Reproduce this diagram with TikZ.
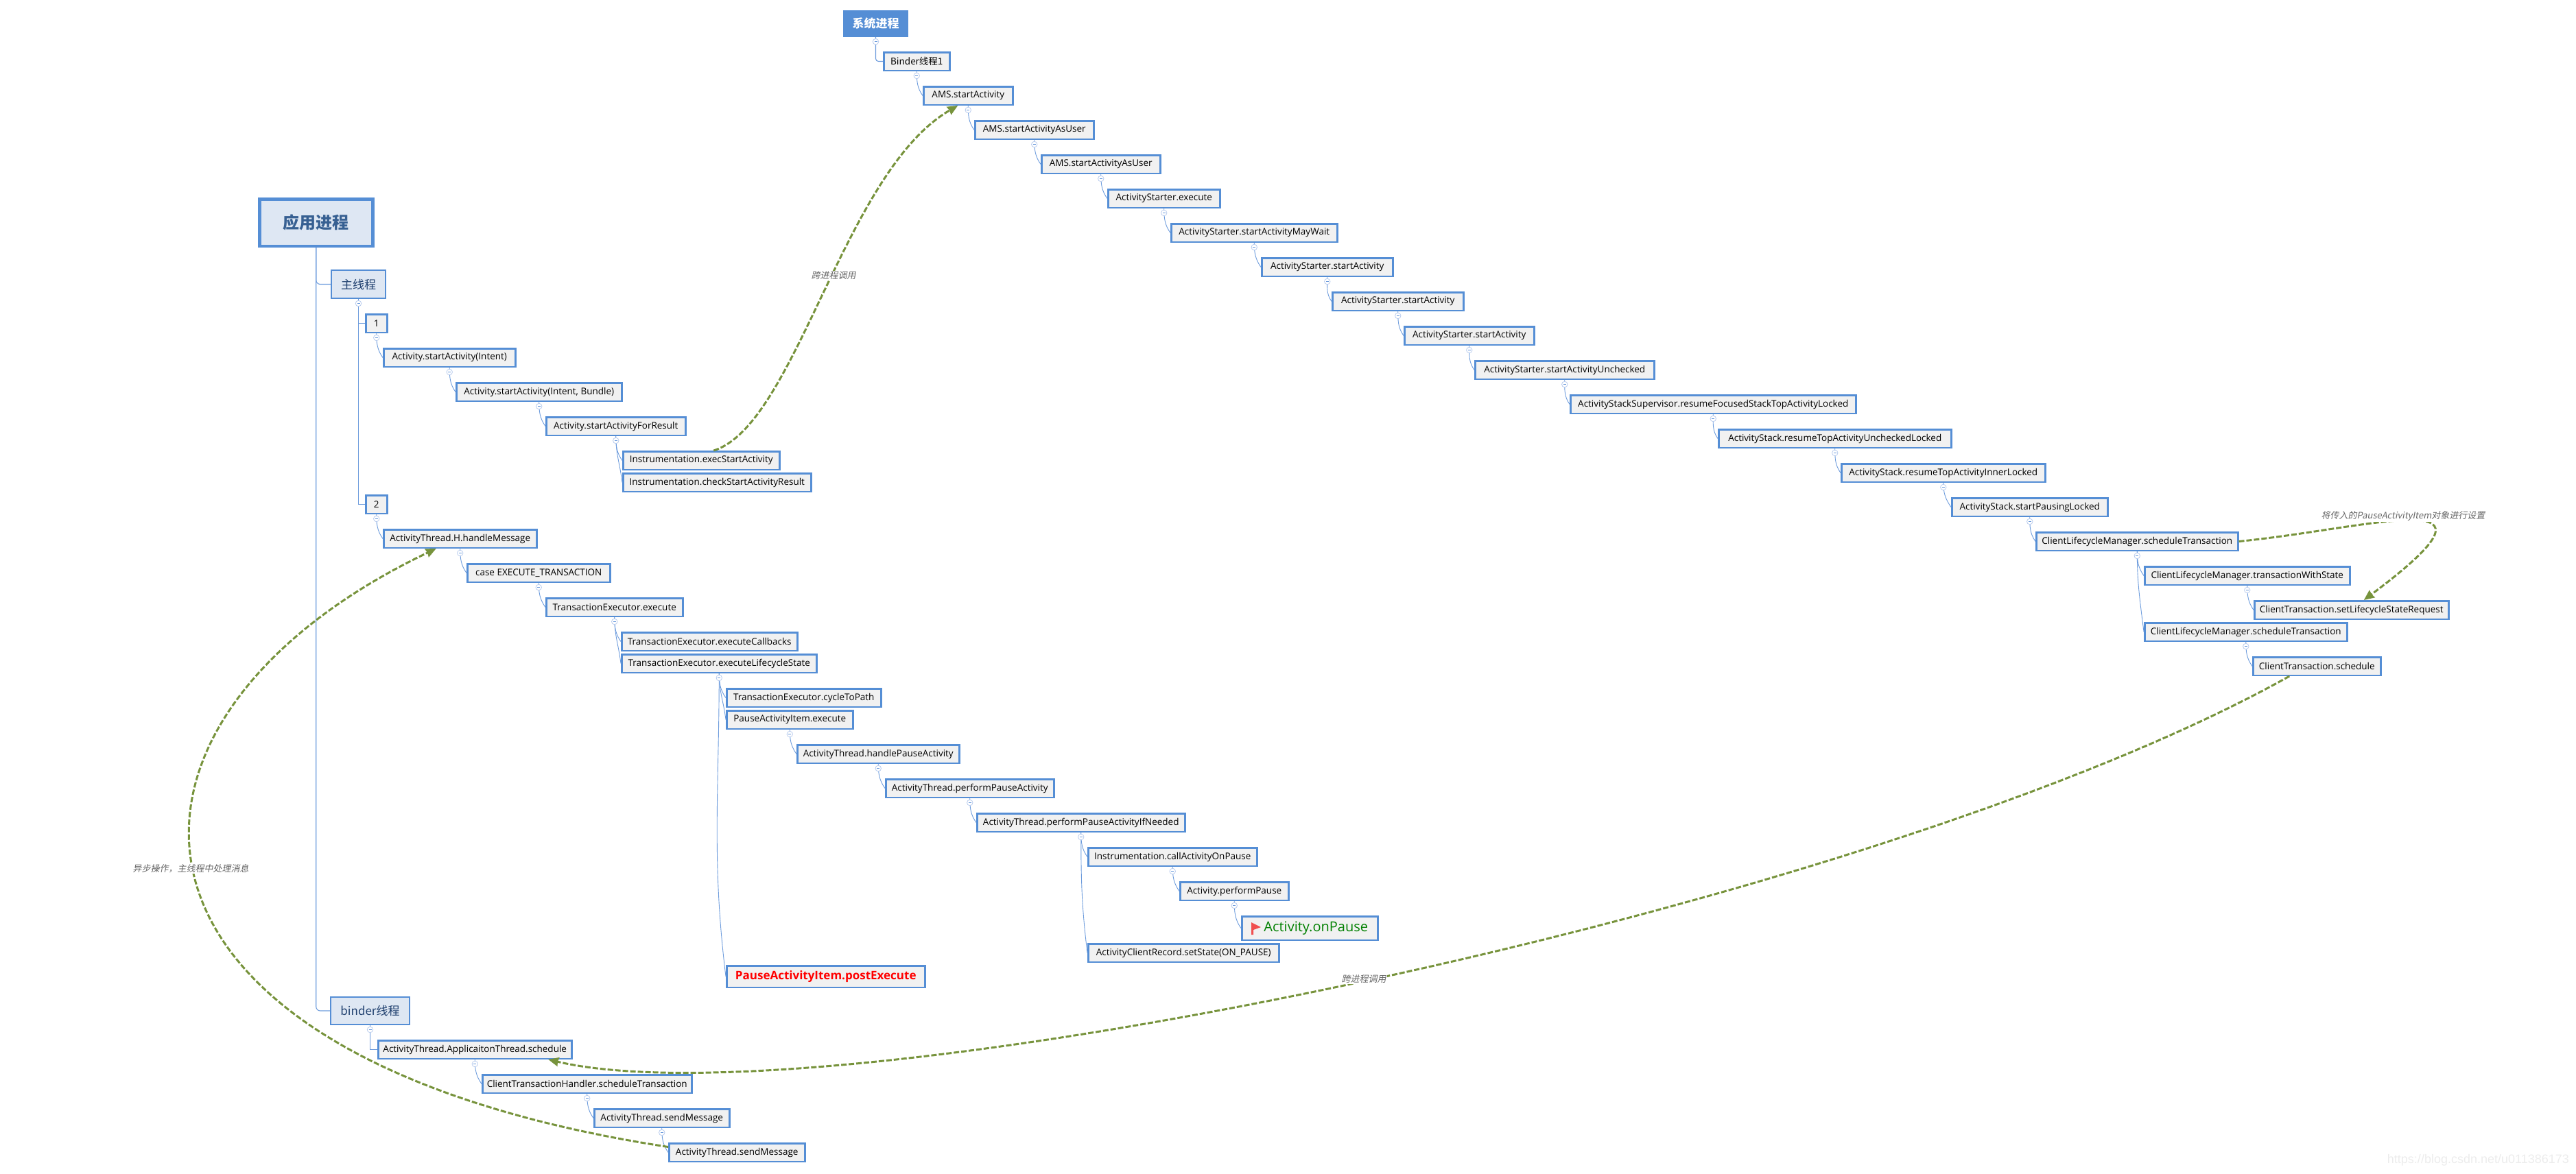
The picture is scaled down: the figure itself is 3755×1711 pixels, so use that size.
\documentclass[tikz,border=0pt]{standalone}
\usepackage{fontspec}
\setmainfont{Open Sans}
\newfontfamily\cjk{Noto Sans CJK SC}
\newfontfamily\cjknote[FakeSlant=0.2]{Noto Sans CJK SC}
\newfontfamily\markfont{Liberation Sans}
\usetikzlibrary{arrows.meta}

\definecolor{boxblue}{HTML}{558ED5}
\definecolor{linkblue}{HTML}{6C9BDC}
\definecolor{foldblue}{HTML}{B9CCEE}
\definecolor{lightblue}{HTML}{DEE7F3}
\definecolor{callgray}{HTML}{F1F1F1}
\definecolor{jumpgreen}{HTML}{77933C}
\definecolor{navytext}{HTML}{1F3F6E}
\definecolor{roottext}{HTML}{376092}
\definecolor{flagred}{HTML}{F05050}

\tikzset{
  callbox/.style={draw=boxblue, fill=callgray, line width=2.5pt, anchor=west, minimum height=26.5pt,
    inner xsep=0pt, inner ysep=0pt, text=black, font=\fontsize{13.5}{15}\selectfont},
  threadbox/.style={draw=boxblue, fill=lightblue, line width=2pt, inner sep=0pt, text=navytext,
    font=\cjk\fontsize{17}{20}\selectfont},
  foldmark/.style={circle, draw=foldblue, fill=white, line width=0.8pt, minimum size=8.5pt, inner sep=0pt,
    path picture={\draw[linkblue, line width=0.9pt] ([xshift=-2pt]path picture bounding box.center) -- ([xshift=2pt]path picture bounding box.center);}},
  branch/.style={linkblue, line width=1.1pt},
  curvebranch/.style={linkblue, line width=0.9pt},
  jump/.style={jumpgreen, line width=3pt, dash pattern=on 8pt off 3pt},
  jumphead/.style={-{Stealth[length=15pt,width=13pt,inset=1pt]}},
  notelabel/.style={fill=white, inner sep=1pt, text=black!60, font=\cjknote\fontsize{13}{15}\selectfont}
}

\begin{document}
\begin{tikzpicture}[x=1pt, y=-1pt]
  \useasboundingbox (0,0) rectangle (3755,1711);

  % app side
  \node[draw=boxblue, fill=lightblue, line width=4.5pt, minimum width=165pt, minimum height=68.5pt, text=roottext,
    font=\cjk\bfseries\fontsize{24}{28}\selectfont] (approot) at (460.75,324.5) {应用进程};
  \node[threadbox, minimum width=79pt, minimum height=41pt] (mainthread) at (522.5,414.5) {主线程};
  \node[callbox, minimum width=31pt] (stepone) at (532,471.5) {1};
  \node[callbox, minimum width=192pt] (startintent) at (558,521.5) {Activity.startActivity(Intent)};
  \node[callbox, minimum width=241pt] (startbundle) at (664,571.5) {Activity.startActivity(Intent, Bundle)};
  \node[callbox, minimum width=203pt] (startresult) at (795,621.5) {Activity.startActivityForResult};
  \node[callbox, minimum width=228pt] (execstart) at (907,671.5) {Instrumentation.execStartActivity};
  \node[callbox, minimum width=274pt] (checkstart) at (907,703.5) {Instrumentation.checkStartActivityResult};

  \node[callbox, minimum width=31pt] (steptwo) at (532,735.5) {2};
  \node[callbox, minimum width=223pt] (handlemsg) at (558,785.5) {ActivityThread.H.handleMessage};
  \node[callbox, minimum width=208pt] (casetx) at (680,835.5) {case EXECUTE\_TRANSACTION};
  \node[callbox, minimum width=199pt] (txexec) at (795,885.5) {TransactionExecutor.execute};
  \node[callbox, minimum width=256pt] (txcallbacks) at (905,935.5) {TransactionExecutor.executeCallbacks};
  \node[callbox, minimum width=284pt] (txlife) at (905,967.5) {TransactionExecutor.executeLifecycleState};
  \node[callbox, minimum width=225pt] (cyclepath) at (1058,1017.5) {TransactionExecutor.cycleToPath};
  \node[callbox, minimum width=184pt] (pauseexec) at (1058,1049.5) {PauseActivityItem.execute};
  \node[callbox, minimum width=236pt] (handlepause) at (1161,1099.5) {ActivityThread.handlePauseActivity};
  \node[callbox, minimum width=245pt] (performpause) at (1290,1149.5) {ActivityThread.performPauseActivity};
  \node[callbox, minimum width=303pt] (pauseneeded) at (1423,1199.5) {ActivityThread.performPauseActivityIfNeeded};
  \node[callbox, minimum width=246pt] (callpause) at (1585,1249.5) {Instrumentation.callActivityOnPause};
  \node[callbox, minimum width=158pt] (actpause) at (1719,1299.5) {Activity.performPause};
  \node[callbox, minimum width=198pt, minimum height=34.5pt, text={rgb,255:red,0;green,128;blue,0},
    font=\fontsize{20}{24}\selectfont] (onpause) at (1809,1353.5) {\hspace*{18pt}Activity.onPause};
  \node[callbox, minimum width=278pt] (setstate) at (1585,1389.5) {ActivityClientRecord.setState(ON\_PAUSE)};
  \node[callbox, minimum width=289pt, minimum height=31.5pt, text=red,
    font=\bfseries\fontsize{17}{20}\selectfont] (postexec) at (1058,1424) {PauseActivityItem.postExecute};

  \node[threadbox, minimum width=115pt, minimum height=40pt] (binderthread) at (539.5,1474) {binder线程};
  \node[callbox, minimum width=282pt] (appschedule) at (550,1530.5) {ActivityThread.ApplicaitonThread.schedule};
  \node[callbox, minimum width=305pt] (handlersched) at (702,1580.5) {ClientTransactionHandler.scheduleTransaction};
  \node[callbox, minimum width=197pt] (sendmsg) at (865,1630.5) {ActivityThread.sendMessage};
  \node[callbox, minimum width=198pt] (sendmsgb) at (974,1680.5) {ActivityThread.sendMessage};

  % system side
  \node[fill=boxblue, minimum width=95pt, minimum height=39pt, inner sep=0pt, text=white,
    font=\cjk\bfseries\fontsize{17}{20}\selectfont] (sysproc) at (1276.5,34.5) {系统进程};
  \node[callbox, minimum width=96pt, font=\cjk\fontsize{13.5}{15}\selectfont] (binderone) at (1287,89.5) {Binder线程1};
  \node[callbox, minimum width=130pt] (amsstart) at (1345,139.5) {AMS.startActivity};
  \node[callbox, minimum width=173pt] (amsuser) at (1420,189.5) {AMS.startActivityAsUser};
  \node[callbox, minimum width=173pt] (amsuserb) at (1517,239.5) {AMS.startActivityAsUser};
  \node[callbox, minimum width=163pt] (starterexec) at (1614,289.5) {ActivityStarter.execute};
  \node[callbox, minimum width=242pt] (startermay) at (1706,339.5) {ActivityStarter.startActivityMayWait};
  \node[callbox, minimum width=191pt] (starterc) at (1838,389.5) {ActivityStarter.startActivity};
  \node[callbox, minimum width=191pt] (starterd) at (1941,439.5) {ActivityStarter.startActivity};
  \node[callbox, minimum width=189pt] (startere) at (2046,489.5) {ActivityStarter.startActivity};
  \node[callbox, minimum width=261pt] (starterun) at (2149,539.5) {ActivityStarter.startActivityUnchecked};
  \node[callbox, minimum width=416pt] (supervisor) at (2288,589.5) {ActivityStackSupervisor.resumeFocusedStackTopActivityLocked};
  \node[callbox, minimum width=339pt] (stackun) at (2504,639.5) {ActivityStack.resumeTopActivityUncheckedLocked};
  \node[callbox, minimum width=297pt] (stackinner) at (2683,689.5) {ActivityStack.resumeTopActivityInnerLocked};
  \node[callbox, minimum width=227pt] (stackpause) at (2844,739.5) {ActivityStack.startPausingLocked};
  \node[callbox, minimum width=294pt] (lifesched) at (2967,789.5) {ClientLifecycleManager.scheduleTransaction};
  \node[callbox, minimum width=299pt] (lifestate) at (3125,839.5) {ClientLifecycleManager.transactionWithState};
  \node[callbox, minimum width=283pt] (setrequest) at (3285,889.5) {ClientTransaction.setLifecycleStateRequest};
  \node[callbox, minimum width=295pt] (lifeschedb) at (3125,921.5) {ClientLifecycleManager.scheduleTransaction};
  \node[callbox, minimum width=186pt] (txschedule) at (3283,971.5) {ClientTransaction.schedule};

  \fill[flagred] (1824,1345) -- (1838,1352) -- (1827,1356) -- (1827,1363) -- (1824,1363) -- cycle;

  % tree lines
  \draw[branch, rounded corners=6pt] (approot.south) |- (mainthread.west);
  \draw[branch, rounded corners=6pt] (approot.south) |- (binderthread.west);
  \draw[branch, rounded corners=4pt] (sysproc.south) |- (binderone.west);
  \draw[branch] (mainthread.south) |- (stepone.west);
  \draw[branch] (mainthread.south) |- (steptwo.west);
  \draw[branch] (binderthread.south) |- (appschedule.west);

  \foreach \from/\to in {stepone/startintent, startintent/startbundle, startbundle/startresult,
    startresult/execstart, steptwo/handlemsg, handlemsg/casetx, casetx/txexec,
    txexec/txcallbacks, txlife/cyclepath, pauseexec/handlepause, handlepause/performpause,
    performpause/pauseneeded, pauseneeded/callpause, callpause/actpause, actpause/onpause,
    appschedule/handlersched, handlersched/sendmsg, sendmsg/sendmsgb, binderone/amsstart,
    amsstart/amsuser, amsuser/amsuserb, amsuserb/starterexec, starterexec/startermay,
    startermay/starterc, starterc/starterd, starterd/startere, startere/starterun,
    starterun/supervisor, supervisor/stackun, stackun/stackinner, stackinner/stackpause,
    stackpause/lifesched, lifesched/lifestate, lifestate/setrequest, lifeschedb/txschedule} {
    \draw[curvebranch] (\from.south) to[out=-90, in=125] (\to.west);
  }

  % second and later children hang nearly straight
  \foreach \from/\to in {startresult/checkstart, txexec/txlife, txlife/pauseexec, txlife/postexec,
    pauseneeded/setstate, lifesched/lifeschedb} {
    \draw[curvebranch] (\from.south) to[out=-90, in=97] (\to.west);
  }

  \foreach \parent in {mainthread, stepone, startintent, startbundle, startresult, steptwo, handlemsg,
    casetx, txexec, txlife, pauseexec, handlepause, performpause, pauseneeded, callpause, actpause,
    binderthread, appschedule, handlersched, sendmsg, sysproc, binderone, amsstart, amsuser, amsuserb,
    starterexec, startermay, starterc, starterd, startere, starterun, supervisor, stackun, stackinner,
    stackpause, lifesched, lifestate, lifeschedb} {
    \node[foldmark] (fold-\parent) at ([yshift=-6.5pt]\parent.south) {};
  }

  % cross-process calls
  \draw[jump, jumphead] ([xshift=18pt]execstart.north) .. controls (1160,620) and (1230,250) .. ([xshift=-15pt]amsstart.south);
  \draw[jump, jumphead] (lifesched.east) .. controls (3460,770) and (3680,700) .. ([xshift=18pt]setrequest.north);
  \draw[jump, jumphead] ([xshift=-40pt]txschedule.south) .. controls (2723,1330) and (1200,1640) .. ([xshift=107pt]appschedule.south);
  \draw[jump, jumphead] ([yshift=8pt]sendmsgb.west) .. controls (112,1540) and (112,1050) .. ([xshift=-35pt]handlemsg.south);

  \node[notelabel] (crosscalla) at (1215,402) {跨进程调用};
  \node[notelabel] (crosscallb) at (1988,1428) {跨进程调用};
  \node[notelabel] (asyncnote) at (278,1267) {异步操作，主线程中处理消息};
  \node[notelabel] (setnote) at (3503,753) {将传入的PauseActivityItem对象进行设置};

  \node[anchor=east, inner sep=0pt, text={rgb,255:red,236;green,236;blue,236}, font=\markfont\fontsize{18}{20}\selectfont] (urlmark) at (3745,1692) {https://blog.csdn.net/u011386173};
\end{tikzpicture}
\end{document}
